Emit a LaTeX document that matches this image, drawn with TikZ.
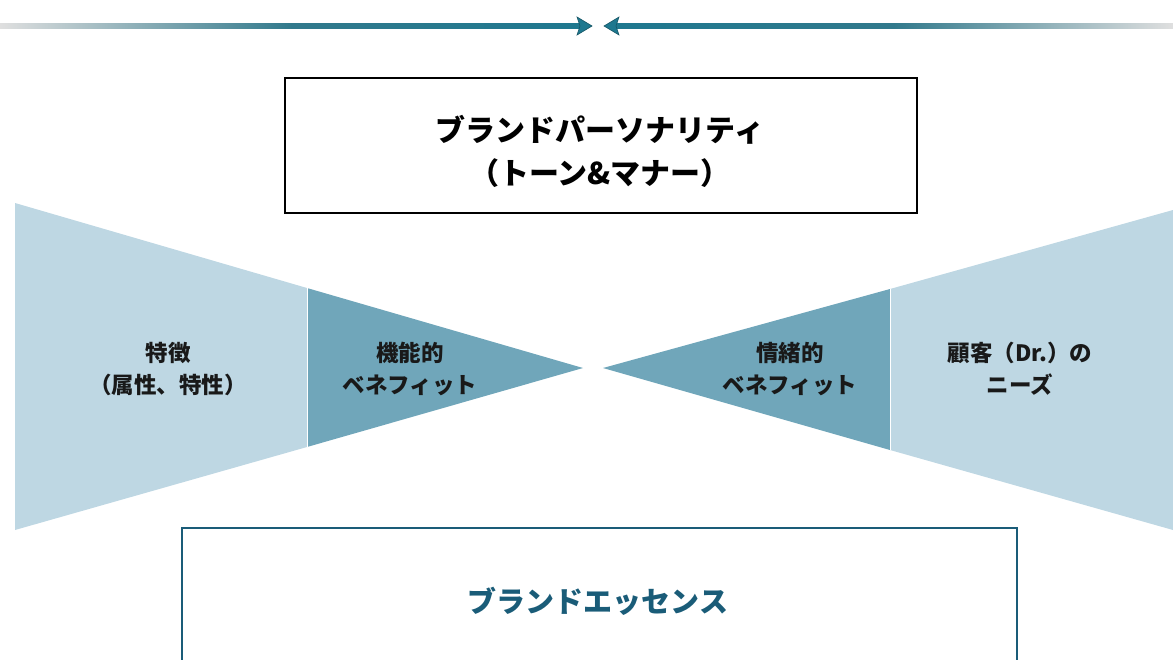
\documentclass[tikz,border=0pt]{standalone}
\usepackage{fontspec}
\newfontfamily\jp{Noto Sans CJK JP}
\usetikzlibrary{arrows.meta}
\definecolor{lightblue}{RGB}{190,215,227}
\definecolor{darkblue}{RGB}{112,166,186}
\definecolor{arrowteal}{RGB}{30,120,143}
\definecolor{essence}{RGB}{26,92,120}
\definecolor{txt}{RGB}{25,25,25}
\tikzset{
  lbl/.style={font=\jp\bfseries\fontsize{22.5}{32}\selectfont, text=txt, align=center, inner sep=0pt},
  bigbox/.style={draw, line width=1.6pt, inner sep=0pt},
  arrhead/.style={fill=arrowteal, draw=arrowteal!70!black, line width=0.6pt},
}
\begin{document}
\begin{tikzpicture}[x=1pt,y=-1pt]
\useasboundingbox (0,0) rectangle (1173,659);
% top arrows
\coordinate (la) at (0,26);
\coordinate (ltip) at (592,26);
\coordinate (ra) at (1173,26);
\coordinate (rtip) at (604,26);
\shade[left color=gray!25, right color=arrowteal, middle color=arrowteal!80!gray] (0,23.5) rectangle (580,28.5);
\shade[left color=arrowteal, right color=gray!25, middle color=arrowteal!80!gray] (616,23.5) rectangle (1173,28.5);
\path[arrhead] (ltip) -- (577,17) -- (580,26) -- (577,35) -- cycle;
\path[arrhead] (rtip) -- (619,17) -- (616,26) -- (619,35) -- cycle;
% bow tie
\fill[lightblue] (15,203) -- (307,288) -- (307,447) -- (15,530) -- cycle;
\fill[darkblue] (307,288) -- (583,368) -- (307,447) -- cycle;
\fill[darkblue] (603,368) -- (890,289) -- (890,450) -- cycle;
\fill[lightblue] (890,289) -- (1173,210) -- (1173,530) -- (890,450) -- cycle;
\draw[white, line width=0.8pt] (307,288) -- (307,447);
\draw[white, line width=0.8pt] (890,289) -- (890,450);
% top box
\node[bigbox, draw=black, minimum width=632, minimum height=135, anchor=north west] (pers) at (284,77) {};
\node[font=\jp\bfseries\fontsize{30}{43}\selectfont, align=center, inner sep=0pt] (perstxt) at (600,151)
  {ブランドパーソナリティ\\（トーン\&マナー）};
% bottom box
\node[bigbox, draw=essence, line width=1.8pt, minimum width=835, minimum height=150, anchor=north west] (ess) at (181,527) {};
\node[font=\jp\bfseries\fontsize{29}{35}\selectfont, text=essence, inner sep=0pt] (esstxt) at (598,601) {ブランドエッセンス};
% labels
\node[lbl] (feat) at (168,369) {特徴\\（属性、特性）};
\node[lbl] (func) at (410,369) {機能的\\ベネフィット};
\node[lbl] (emo) at (790,369) {情緒的\\ベネフィット};
\node[lbl] (needs) at (1020,369) {顧客（Dr.）の\\ニーズ};
\end{tikzpicture}
\end{document}
